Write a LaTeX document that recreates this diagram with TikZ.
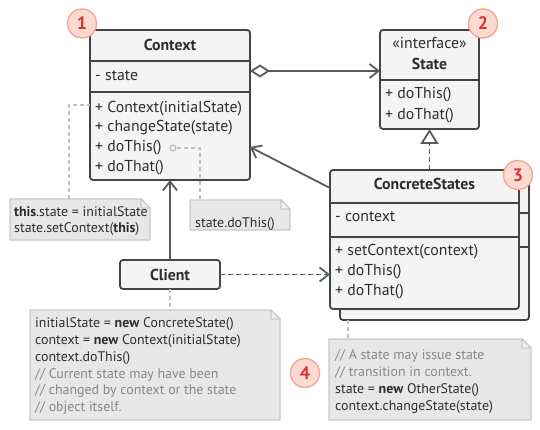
\documentclass[tikz,border=0pt]{standalone}
\usepackage{fontspec}
\setmainfont{PT Sans}
\usetikzlibrary{arrows.meta,calc}
\definecolor{boxfill}{HTML}{F4F4F4}
\definecolor{boxdraw}{HTML}{444444}
\definecolor{notefill}{HTML}{E7E7E7}
\definecolor{notedraw}{HTML}{C9C9C9}
\definecolor{foldfill}{HTML}{F2F2F2}
\definecolor{linecol}{HTML}{555E55}
\definecolor{dashcol}{HTML}{55665A}
\definecolor{notelink}{HTML}{B7C6B9}
\definecolor{badgefill}{HTML}{FCDAD0}
\definecolor{badgedraw}{HTML}{F2A896}
\definecolor{badgetext}{HTML}{D3343C}
\definecolor{txt}{HTML}{2E2E2E}
\definecolor{comment}{HTML}{888888}
\newcommand\drawnote[1]{%
  \draw[draw=notedraw, fill=notefill, line width=1.3pt]
    (#1.north west) -- ($(#1.north east)+(-9,0)$) -- ($(#1.north east)+(0,9)$)
    -- (#1.south east) -- (#1.south west) -- cycle;
  \draw[draw=notedraw, fill=foldfill, line width=1.1pt, line join=round]
    ($(#1.north east)+(-9,0)$) -- ($(#1.north east)+(-9,9)$) -- ($(#1.north east)+(0,9)$) -- cycle;
}
\begin{document}
\begin{tikzpicture}[x=1pt,y=-1pt,
  classbox/.style={draw=boxdraw, fill=boxfill, line width=1.8pt, rounded corners=3pt, inner sep=0pt, outer sep=0pt},
  divider/.style={draw=boxdraw, line width=1.8pt},
  mtext/.style={anchor=base west, font=\fontsize{15.8}{18}\selectfont, text=txt, inner sep=0pt},
  htext/.style={anchor=center, font=\fontsize{15.8}{18}\selectfont\bfseries, text=txt, inner sep=0pt},
  ntext/.style={anchor=base west, font=\fontsize{13.9}{16}\selectfont, text=txt, inner sep=0pt},
  ctext/.style={ntext, text=comment},
  notebox/.style={inner sep=0pt, outer sep=0pt},
  conn/.style={draw=linecol, line width=1.8pt},
  barb/.style={-{Straight Barb[length=9pt,width=14pt]}},
  nlink/.style={draw=notelink, line width=1.3pt, dash pattern=on 4pt off 3pt},
  badge/.style={circle, draw=badgedraw, fill=badgefill, line width=1.4pt, minimum size=29pt, inner sep=0pt, font=\fontsize{18}{18}\selectfont\bfseries, text=badgetext}
]
\useasboundingbox (0,0) rectangle (540,430);

% ---------- notes ----------
\node[notebox, minimum width=140pt, minimum height=41pt] (n1) at (80,219.5) {};
\node[notebox, minimum width=100pt, minimum height=30pt] (n2) at (240,215) {};
\node[notebox, minimum width=250pt, minimum height=110pt] (n3) at (155,365) {};
\node[notebox, minimum width=202pt, minimum height=81pt] (n4) at (430,379.5) {};
\drawnote{n1}
\drawnote{n2}
\drawnote{n3}
\drawnote{n4}

% ---------- class boxes ----------
\node[classbox, minimum width=160pt, minimum height=150pt] (ctx) at (170,105) {};
\draw[divider] (90,61) -- (250,61);
\draw[divider] (90,92) -- (250,92);

\node[classbox, minimum width=99pt, minimum height=99pt] (state) at (429.5,79.5) {};
\draw[divider] (380,80) -- (479,80);

\node[classbox, minimum width=189pt, minimum height=140pt] (csback) at (434.5,250) {};
\draw[divider] (340,213) -- (529,213);
\draw[divider] (340,247) -- (529,247);
\node[classbox, minimum width=189pt, minimum height=139pt] (cs) at (424.5,239.5) {};
\draw[divider] (330,203) -- (519,203);
\draw[divider] (330,237) -- (519,237);

\node[classbox, minimum width=100pt, minimum height=29pt] (client) at (170,274.5) {};

% ---------- class texts ----------
\node[htext] (ctxh) at (170,45) {Context};
\node[mtext] (ctxa) at (95,80.5) {- state};
\node[mtext] (ctxm1) at (95,112.5) {+ Context(initialState)};
\node[mtext] (ctxm2) at (95,132) {+ changeState(state)};
\node[mtext] (ctxm3) at (95,152) {+ doThis()};
\node[mtext] (ctxm4) at (95,171.5) {+ doThat()};

\node[anchor=center, font=\fontsize{15.8}{18}\selectfont, text=txt, inner sep=0pt] (sti) at (429.5,43.5) {«interface»};
\node[htext] (sth) at (429.5,63.5) {State};
\node[mtext] (stm1) at (385,98.5) {+ doThis()};
\node[mtext] (stm2) at (385,119.5) {+ doThat()};

\node[htext] (csh) at (424.5,184) {ConcreteStates};
\node[mtext] (csa) at (335,221.5) {- context};
\node[mtext] (csm1) at (335,255.5) {+ setContext(context)};
\node[mtext] (csm2) at (335,275.5) {+ doThis()};
\node[mtext] (csm3) at (335,295.5) {+ doThat()};

\node[htext] (clh) at (170,274.5) {Client};

% ---------- note texts ----------
\node[ntext] (n1a) at (14,216.5) {\textbf{this}.state = initialState};
\node[ntext] (n1b) at (14,232.5) {state.setContext(\textbf{this})};
\node[ntext] (n2a) at (195,227.5) {state.doThis()};
\node[ntext] (n3a) at (35,327.5) {initialState = \textbf{new} ConcreteState()};
\node[ntext] (n3b) at (35,344.5) {context = \textbf{new} Context(initialState)};
\node[ntext] (n3c) at (35,361) {context.doThis()};
\node[ctext] (n3d) at (35,378) {// Current state may have been};
\node[ctext] (n3e) at (35,394.5) {// changed by context or the state};
\node[ctext] (n3f) at (35,411.5) {// object itself.};
\node[ctext] (n4a) at (335,359) {// A state may issue state};
\node[ctext] (n4b) at (335,376) {// transition in context.};
\node[ntext] (n4c) at (335,393.5) {state = \textbf{new} OtherState()};
\node[ntext] (n4d) at (335,410.5) {context.changeState(state)};

% ---------- note links ----------
\coordinate (k1) at (69,105);
\draw[nlink] (n1.north -| k1) -- (k1) -- (k1 -| ctx.west);
\node[circle, draw=notelink!70!black!60, fill=boxfill, line width=1.1pt, minimum size=6pt, inner sep=0pt] (dot) at (173,148) {};
\coordinate (k2) at (200,148);
\draw[nlink] (dot.east) -- (k2) -- (k2 |- n2.north);
\draw[nlink] (client.south) -- (client.south |- n3.north);
\coordinate (k4) at (348,320);
\draw[nlink] (k4) -- (k4 |- n4.north);

% ---------- connectors ----------
\draw[conn, {Diamond[open, fill=white, length=20pt, width=13pt]}-{Straight Barb[length=9pt,width=14pt]}]
  ($(ctx.north east)+(0,41)$) -- ($(state.north west)+(0,41)$);
\draw[conn, dash pattern=on 5pt off 3pt, -{Triangle[open, fill=white, length=15pt, width=18pt]}]
  (state.south |- cs.north) -- (state.south);
\draw[conn, barb] ($(cs.north west)+(0,18)$) -- ($(ctx.north east)+(0,117)$);
\draw[conn, barb] (client.north) -- (client.north |- ctx.south);
\draw[draw=dashcol, line width=1.8pt, dash pattern=on 5pt off 3pt, barb] (client.east) -- (client.east -| cs.west);

% ---------- badges ----------
\node[badge] (b1) at (82,23.5) {1};
\node[badge] (b2) at (483,23.5) {2};
\node[badge] (b3) at (518,175) {3};
\node[badge] (b4) at (305,373) {4};
\end{tikzpicture}
\end{document}
